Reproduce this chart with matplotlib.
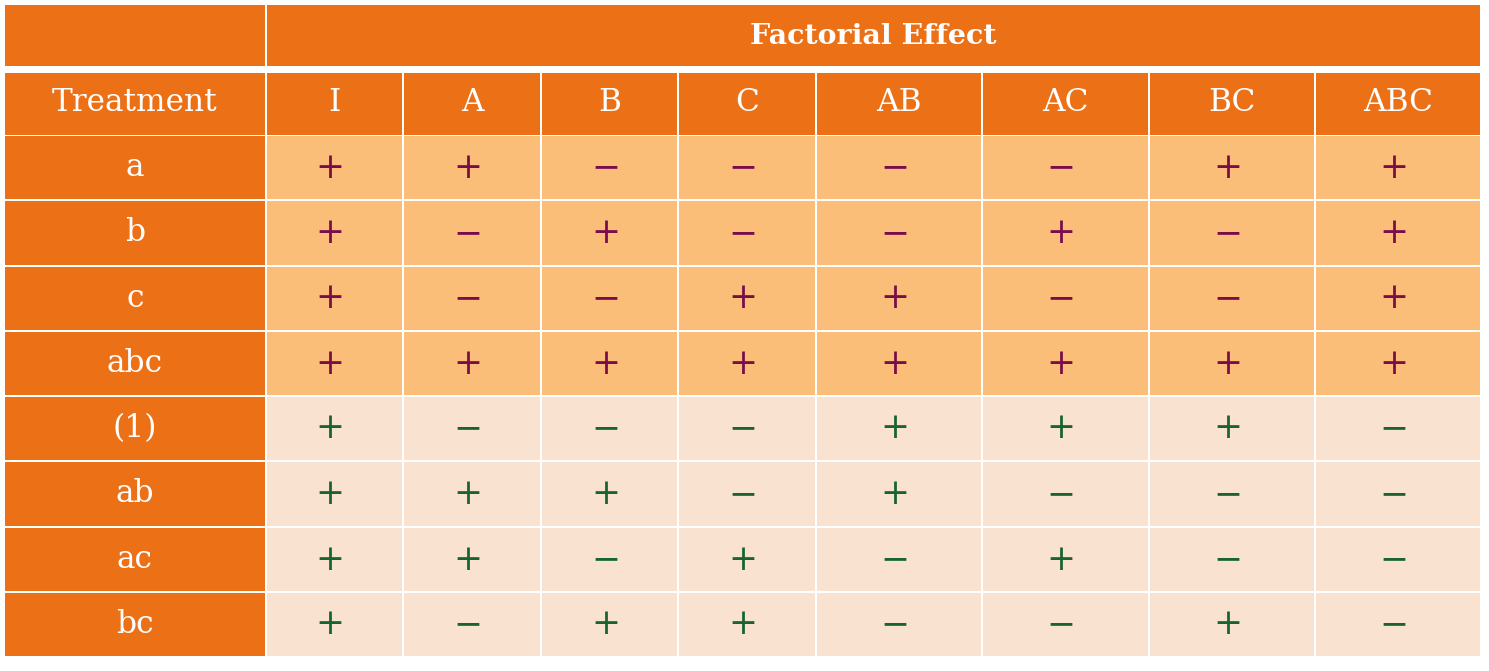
import matplotlib.pyplot as plt
from matplotlib.patches import Rectangle

# Dane tabeli
treatments = ['a', 'b', 'c', 'abc', '(1)', 'ab', 'ac', 'bc']
effects = ['I', 'A', 'B', 'C', 'AB', 'AC', 'BC', 'ABC']
signs = [
    '++----++',
    '+-+--+-+',
    '+--++--+',
    '++++++++',
    '+---+++-',
    '+++-+---',
    '++-+-+--',
    '+-++--+-',
]
title = 'Factorial Effect'
corner = 'Treatment'

# Kolory
dark = '#EC7016'
mid = '#FABE78'
light = '#FAE2D1'
purple = '#7A0C4C'
green = '#17642F'

# Krawedzie kolumn i wierszy (w pikselach)
x_edges = [4, 265.5, 403, 541, 678, 815.5, 982, 1148.5, 1315, 1481]
y_edges = [135, 200, 265.5, 331, 396, 461, 527, 592, 657]
head1 = (5, 66)
head2 = (72.5, 134.5)

fig = plt.figure(figsize=(14.89, 6.71), dpi=100)
ax = fig.add_axes([0, 0, 1, 1])
ax.set_xlim(0, 1489)
ax.set_ylim(671, 0)
ax.axis('off')

font = 'DejaVu Serif'
fs = 22.5
g = 1.0


def cell(x0, x1, y0, y1, color):
    ax.add_patch(Rectangle((x0 + g, y0 + g), x1 - x0 - 2 * g, y1 - y0 - 2 * g,
                           facecolor=color, edgecolor='none'))


# Naglowek 1
cell(x_edges[0], x_edges[1], head1[0] - g, head1[1] + g, dark)
cell(x_edges[1], x_edges[-1], head1[0] - g, head1[1] + g, dark)
ax.text((x_edges[1] + x_edges[-1]) / 2, sum(head1) / 2 + 1, title,
        ha='center', va='center', color='white', fontsize=20.5, family=font,
        fontweight='bold')

# Naglowek 2
cell(x_edges[0], x_edges[1], head2[0] - g, head2[1] + g, dark)
ax.text((x_edges[0] + x_edges[1]) / 2, sum(head2) / 2 - 1, corner,
        ha='center', va='center', color='white', fontsize=fs, family=font)
for j, e in enumerate(effects):
    cell(x_edges[j + 1], x_edges[j + 2], head2[0] - g, head2[1] + g, dark)
    ax.text((x_edges[j + 1] + x_edges[j + 2]) / 2, sum(head2) / 2 - 1, e,
            ha='center', va='center', color='white', fontsize=fs, family=font)

# Wiersze
for i, t in enumerate(treatments):
    y0, y1 = y_edges[i], y_edges[i + 1]
    yc = (y0 + y1) / 2
    top = i < 4
    cell(x_edges[0], x_edges[1], y0, y1, dark)
    ax.text((x_edges[0] + x_edges[1]) / 2, yc, t, ha='center', va='center',
            color='white', fontsize=fs, family=font)
    for j, s in enumerate(signs[i]):
        cell(x_edges[j + 1], x_edges[j + 2], y0, y1, mid if top else light)
        ax.text((x_edges[j + 1] + x_edges[j + 2]) / 2 - 4, yc,
                '+' if s == '+' else '\u2212', ha='center', va='center',
                color=purple if top else green, fontsize=25, family=font)

fig.savefig('out.png', dpi=100, facecolor='white')
